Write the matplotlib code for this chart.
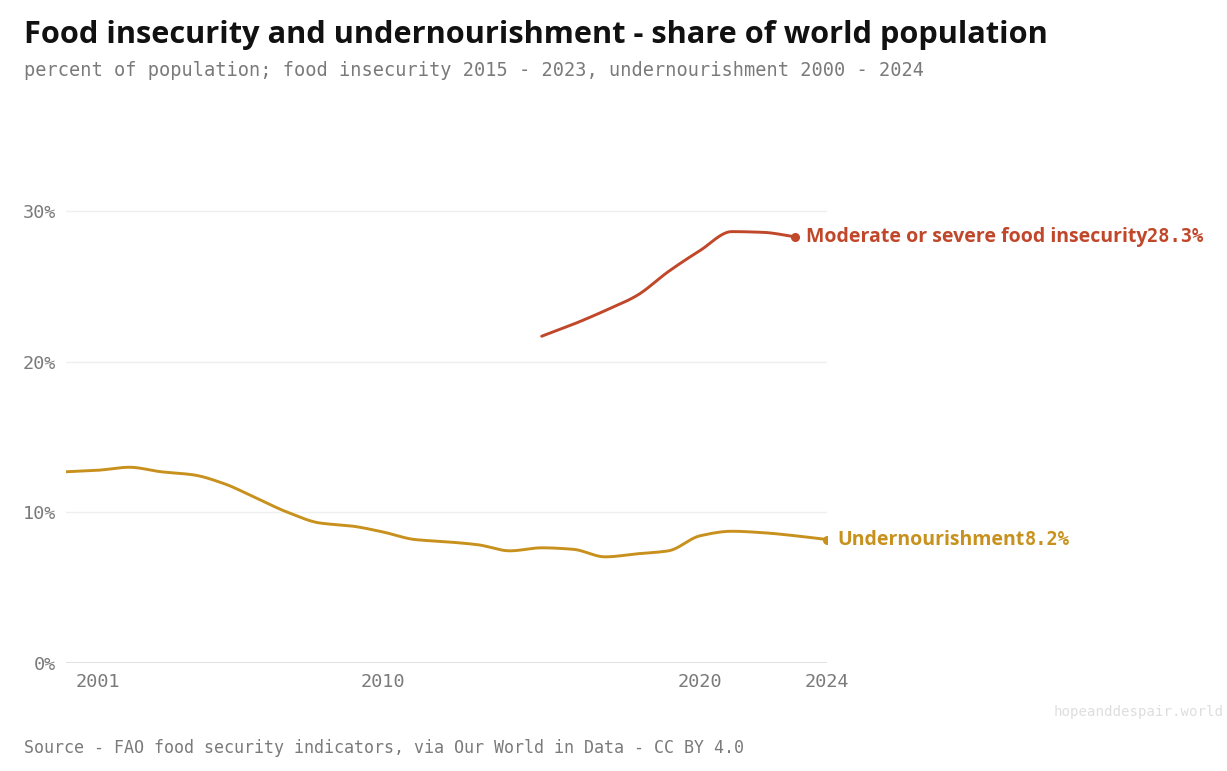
import numpy as np
import matplotlib.pyplot as plt

# --------------------------------------------------
# Data (percent of world population)
# --------------------------------------------------
under_years = list(range(2000, 2025))
under_share = [12.7, 12.8, 13.0, 12.7, 12.5, 11.9, 10.95, 10.0, 9.3, 9.1,
               8.7, 8.2, 8.05, 7.85, 7.45, 7.65, 7.55, 7.05, 7.25, 7.45,
               8.45, 8.75, 8.65, 8.45, 8.2]

insec_years = list(range(2015, 2024))
insec_share = [21.7, 22.5, 23.4, 24.4, 26.0, 27.4, 28.65, 28.6, 28.3]

xticks = [2001, 2010, 2020, 2024]
yticks = [0, 10, 20, 30]

RED = "#c0472a"
GOLD = "#c8911d"
GREY = "#7a7a7a"
MONO = "DejaVu Sans Mono"
SANS = "Open Sans"


def monotone(x, y, n=20):
    # monotone cubic (Fritsch-Carlson) for a smooth drawn line
    x = np.asarray(x, float)
    y = np.asarray(y, float)
    h = np.diff(x)
    d = np.diff(y) / h
    m = np.zeros_like(y)
    m[0], m[-1] = d[0], d[-1]
    for i in range(1, len(y) - 1):
        if d[i - 1] * d[i] <= 0:
            m[i] = 0
        else:
            m[i] = 3 * (h[i - 1] + h[i]) / (
                (2 * h[i] + h[i - 1]) / d[i - 1] + (h[i] + 2 * h[i - 1]) / d[i])
    xs, ys = [], []
    for i in range(len(x) - 1):
        t = np.linspace(0, 1, n, endpoint=False)
        h00 = 2 * t**3 - 3 * t**2 + 1
        h10 = t**3 - 2 * t**2 + t
        h01 = -2 * t**3 + 3 * t**2
        h11 = t**3 - t**2
        xs.append(x[i] + t * h[i])
        ys.append(h00 * y[i] + h10 * h[i] * m[i] + h01 * y[i + 1] + h11 * h[i] * m[i + 1])
    xs.append([x[-1]])
    ys.append([y[-1]])
    return np.concatenate(xs), np.concatenate(ys)


W, H = 1227, 771
fig = plt.figure(figsize=(W / 100, H / 100), dpi=100)
ax = fig.add_axes([66 / W, (H - 663) / H, (827 - 66) / W, (663 - 136) / H])

ax.set_xlim(2000, 2024)
ax.set_ylim(0, 35)

for v in yticks[1:]:
    ax.axhline(v, color="#efefef", lw=1, zorder=0)
ax.axhline(0, color="#dddddd", lw=1.2, zorder=0)

for yrs, vals, col in [(under_years, under_share, GOLD),
                       (insec_years, insec_share, RED)]:
    sx, sy = monotone(yrs, vals)
    ax.plot(sx, sy, color=col, lw=2.1, solid_capstyle="round", zorder=3)
    ax.plot(yrs[-1], vals[-1], "o", color=col, ms=5.5, zorder=4)

# end labels
for yrs, vals, col, name in [(insec_years, insec_share, RED, "Moderate or severe food insecurity"),
                             (under_years, under_share, GOLD, "Undernourishment")]:
    t1 = ax.annotate(name, xy=(yrs[-1], vals[-1]), xytext=(7.5, 0),
                     textcoords="offset points", va="center", ha="left",
                     fontsize=14, fontweight="bold", family=SANS, color=col,
                     annotation_clip=False)
    ax.annotate(f"{vals[-1]:.1f}%", xy=(1, 0.5), xycoords=t1, va="center", ha="left",
                fontsize=13.5, fontweight="bold", family=MONO, color=col)

ax.set_xticks(xticks)
ax.set_xticklabels([str(v) for v in xticks])
ax.set_yticks(yticks)
ax.set_yticklabels([f"{v}%" for v in yticks])
ax.tick_params(length=0, labelsize=13.3, labelcolor=GREY, pad=7)
for lab in ax.get_xticklabels() + ax.get_yticklabels():
    lab.set_family(MONO)
for s in ax.spines.values():
    s.set_visible(False)

fig.text(24 / W, 1 - 35 / H, "Food insecurity and undernourishment - share of world population",
         fontsize=22.15, fontweight="bold", family=SANS, color="#111111", va="center")
fig.text(24 / W, 1 - 71 / H,
         "percent of population; food insecurity 2015 - 2023, undernourishment 2000 - 2024",
         fontsize=13.43, family=MONO, color=GREY, va="center")
fig.text(24 / W, 1 - 748 / H,
         "Source - FAO food security indicators, via Our World in Data - CC BY 4.0",
         fontsize=12, family=MONO, color=GREY, va="center")
fig.text(1224 / W, 1 - 712 / H, "hopeanddespair.world",
         fontsize=10.2, family=MONO, color="#dedede", va="center", ha="right")

fig.savefig("out.png", dpi=100)
